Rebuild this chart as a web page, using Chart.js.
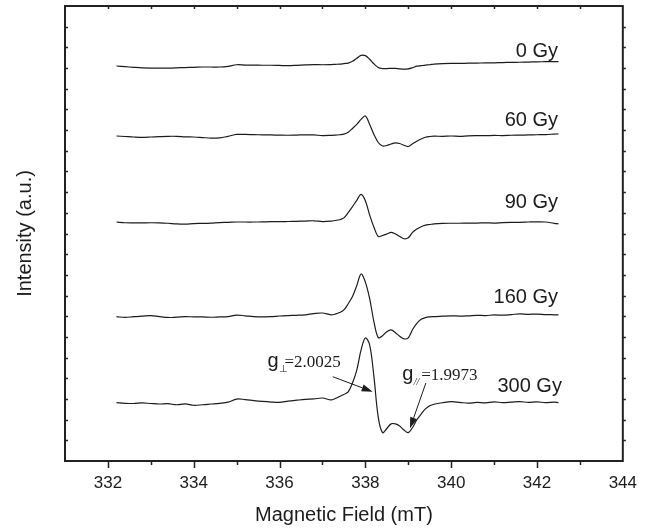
<!DOCTYPE html>
<html>
<head>
<meta charset="utf-8">
<script src="https://cdn.jsdelivr.net/npm/chart.js@4.4.1/dist/chart.umd.min.js"></script>
<style>
  html, body { margin: 0; padding: 0; background: #fff; }
  #wrap { width: 649px; height: 529px; }
</style>
</head>
<body>
<div id="wrap"><canvas id="c"></canvas></div>
<script>
// magnetic field (mT), shared by all spectra
const field = [332.2,332.4,332.6,332.8,333.0,333.2,333.4,333.6,333.8,334.0,334.2,334.4,334.6,334.8,335.0,335.2,335.4,335.6,335.8,336.0,336.2,336.4,336.6,336.8,337.0,337.2,
  337.3,337.4,337.5,337.6,337.7,337.8,337.9,338.0,338.1,338.2,338.3,338.4,338.5,338.6,338.7,338.8,338.9,339.0,339.1,339.2,339.3,339.4,339.5,339.6,
  339.8,340.0,340.2,340.4,340.6,340.8,341.0,341.2,341.4,341.6,341.8,342.0,342.2,342.4,342.5];

const doses = ["0 Gy", "60 Gy", "90 Gy", "160 Gy", "300 Gy"];
// vertical stacking offset of each spectrum (a.u.)
const offsets = [382, 314.3, 231.1, 139.6, 56.4];

// EPR signal (a.u.) relative to each baseline
const sig0 = [0,-0.7,-1.3,-1.8,-2,-2,-2,-1.8,-1.5,-1.3,-1,-1,-1,-0.3,1.2,0.9,0.8,0.7,0.7,0.5,0.3,0.6,1,1.3,1.2,1.4,
  1.6,1.8,2.3,2.8,4.5,7.5,10.3,10,6.5,2,-1.5,-2.5,-2.5,-2.3,-2.4,-2.8,-3,-2.8,-1.7,-0.2,0.3,0.8,1.2,1.8,
  2.3,2.5,2.5,2.7,2.8,3,3,3.3,3.5,3.6,3.8,4,4.2,4.3,4.3];
const sig60 = [0,-0.5,-1,-1.3,-1,-0.6,-0.3,-0.3,-0.8,-1,-1.5,-2,-1.8,-0.3,1.5,1.5,1.3,1.1,1,0.8,0.7,0.9,1.1,1,0.4,0.6,
  0.8,1.2,1.8,3.6,7.3,11.2,16,19.4,11.2,1.5,-6.3,-9.7,-9.2,-7.7,-6.6,-7.3,-9,-10.2,-7.5,-5,-2.9,-1.2,-0.5,-0.2,
  -0.3,0,-0.3,0.2,0.3,0.3,0.5,0.4,0.7,0.8,1,1.2,1.4,1.8,2];
const sig90 = [0,-0.7,-0.8,-0.8,-0.7,-0.8,-1.2,-1.8,-2,-1.5,-1.3,-1,-0.5,-0.3,0,0,0,0.1,0.3,0.3,0.5,0.7,0.9,1.2,0.4,0.8,
  1.5,2.2,4,9,14.8,21,26.8,20.6,6.8,-5.1,-14,-13,-11.6,-10,-11.6,-14,-16.2,-15.3,-10,-6.7,-4.5,-3,-2.4,-1.8,
  -1.3,-1.2,-1.2,-1,-1,-0.8,-1,-0.5,-0.3,-0.3,0,0.2,0,-1.3,-1.7];
const sig160 = [0,-0.8,0,0.5,1,0,-0.8,-0.5,0,-0.2,-0.3,-0.6,-0.3,0,1.5,0.8,0,-0.3,0,0.6,1,1.3,1.8,3,3.5,1.8,
  2.5,4,6.5,12.5,19.5,30,41.3,33.4,17.4,-5,-20.3,-18.5,-14.5,-12.8,-15.5,-19,-21.5,-20.5,-12.5,-6.5,-2.5,-1,-0.3,0,
  0.5,0.8,0.5,0.8,1.3,1,1.7,1.4,2,2.7,2.2,2.5,2,1.8,1.7];
const sig300 = [0,-0.6,-0.8,-0.2,-0.8,-1.3,-1,-2,-1.2,-2.5,-2,-1.3,-0.6,0.5,3.5,3,2,1.2,0.6,0.3,1.5,2.4,3.2,3.6,4.5,2.7,
  4,6,8,10.5,19,31.5,51,62.5,56,25,-14,-29,-25,-20.5,-20.5,-22.5,-26.5,-29,-24,-16.5,-11,-6,-3,-1.5,
  0,1,0.3,-0.5,0.3,-0.2,0.8,0,0.5,1,0.3,0.8,0,0.5,0];
const signals = [sig0, sig60, sig90, sig160, sig300];

const xTicks = [332, 334, 336, 338, 340, 342, 344];

// dose labels, anchored at their right end / baseline
const doseLabelX = [342.49, 342.49, 342.49, 342.49, 342.58];
const doseLabelY = [391, 324, 244.4, 152.5, 67];

const INK = "#1c1c1c";

const datasets = signals.map((s, k) => ({
  label: doses[k],
  data: field.map((f, i) => ({ x: f, y: offsets[k] + s[i] })),
  borderColor: INK,
  borderWidth: 1.2,
  pointRadius: 0,
  tension: 0.35,
  fill: false
}));

function arrow(ctx, x0, y0, x1, y1) {
  const a = Math.atan2(y1 - y0, x1 - x0), len = 11, w = 3.6;
  const bx = x1 - len * Math.cos(a), by = y1 - len * Math.sin(a);
  ctx.beginPath();
  ctx.moveTo(x0, y0);
  ctx.lineTo(bx, by);
  ctx.stroke();
  ctx.beginPath();
  ctx.moveTo(x1, y1);
  ctx.lineTo(bx + w * Math.sin(a), by - w * Math.cos(a));
  ctx.lineTo(bx - w * Math.sin(a), by + w * Math.cos(a));
  ctx.closePath();
  ctx.fill();
}

const frame = {
  id: "frame",
  afterDraw(chart) {
    const { ctx, chartArea: a, scales: { x, y } } = chart;
    ctx.save();
    ctx.strokeStyle = "#222";
    ctx.lineWidth = 1.5;
    ctx.beginPath();
    for (let v = 332; v < 344; v++) {
      const px = Math.round(x.getPixelForValue(v)) + 0.5;
      const len = v % 2 === 0 ? 7 : 4;
      ctx.moveTo(px, a.bottom); ctx.lineTo(px, a.bottom + len);
      ctx.moveTo(px, a.top); ctx.lineTo(px, a.top + 3);
    }
    for (let v = 20; v < 440; v += 20) {
      const py = Math.round(y.getPixelForValue(v)) + 0.5;
      ctx.moveTo(a.left, py); ctx.lineTo(a.left + 3, py);
      ctx.moveTo(a.right, py); ctx.lineTo(a.right + 3, py);
    }
    ctx.stroke();
    ctx.lineWidth = 2;
    ctx.strokeRect(a.left, a.top, a.right - a.left, a.bottom - a.top);
    ctx.restore();
  }
};

const notes = {
  id: "notes",
  afterDatasetsDraw(chart) {
    const { ctx, scales: { x, y } } = chart;
    ctx.save();
    ctx.fillStyle = INK;
    ctx.strokeStyle = INK;
    ctx.textBaseline = "alphabetic";

    ctx.font = "20px 'Liberation Sans', Arial, sans-serif";
    ctx.textAlign = "right";
    doses.forEach((d, k) => {
      ctx.fillText(d, x.getPixelForValue(doseLabelX[k]), y.getPixelForValue(doseLabelY[k]));
    });

    ctx.textAlign = "left";
    // g perpendicular
    let gx = x.getPixelForValue(335.72), gy = y.getPixelForValue(91.2);
    ctx.font = "20px 'Liberation Sans', Arial, sans-serif";
    ctx.fillText("g", gx, gy);
    ctx.font = "10px 'DejaVu Sans', sans-serif";
    ctx.fillText("\u22A5", gx + 11.5, gy + 5);
    ctx.font = "17px 'Liberation Serif', 'Times New Roman', serif";
    ctx.fillText("=2.0025", gx + 17, gy);

    // g parallel
    gx = x.getPixelForValue(338.86); gy = y.getPixelForValue(78.3);
    ctx.font = "20px 'Liberation Sans', Arial, sans-serif";
    ctx.fillText("g", gx, gy);
    ctx.font = "italic 10px 'Liberation Serif', serif";
    ctx.fillText("//", gx + 11.5, gy + 5);
    ctx.font = "17px 'Liberation Serif', 'Times New Roman', serif";
    ctx.fillText("=1.9973", gx + 19, gy);

    ctx.lineWidth = 1;
    arrow(ctx, x.getPixelForValue(337.24), y.getPixelForValue(81.5),
               x.getPixelForValue(338.17), y.getPixelForValue(67.0));
    arrow(ctx, x.getPixelForValue(339.41), y.getPixelForValue(75.4),
               x.getPixelForValue(339.04), y.getPixelForValue(31.6));
    ctx.restore();
  }
};

new Chart(document.getElementById("c"), {
  type: "line",
  data: { datasets },
  options: {
    responsive: true,
    maintainAspectRatio: false,
    animation: false,
    layout: { padding: { top: 6, right: 25, left: 0, bottom: 0 } },
    plugins: { legend: { display: false }, tooltip: { enabled: false } },
    scales: {
      x: {
        type: "linear",
        min: 331,
        max: 344,
        afterBuildTicks: s => { s.ticks = xTicks.map(v => ({ value: v })); },
        afterFit: s => { s.height = 68; },
        grid: { display: false, drawTicks: false },
        border: { display: false },
        ticks: { padding: 12, color: INK, font: { family: "'Liberation Sans', Arial, sans-serif", size: 17 } },
        title: {
          display: true,
          text: "Magnetic Field (mT)",
          color: INK,
          padding: { top: 0, bottom: 2 },
          font: { family: "'Liberation Sans', Arial, sans-serif", size: 20 }
        }
      },
      y: {
        type: "linear",
        min: 0,
        max: 440,
        afterFit: s => { s.width = 65; },
        grid: { display: false, drawTicks: false },
        border: { display: false },
        ticks: { display: false },
        title: {
          display: true,
          text: "Intensity (a.u.)",
          color: INK,
          padding: { top: 13, bottom: 0 },
          font: { family: "'Liberation Sans', Arial, sans-serif", size: 20 }
        }
      }
    }
  },
  plugins: [frame, notes]
});
</script>
</body>
</html>
